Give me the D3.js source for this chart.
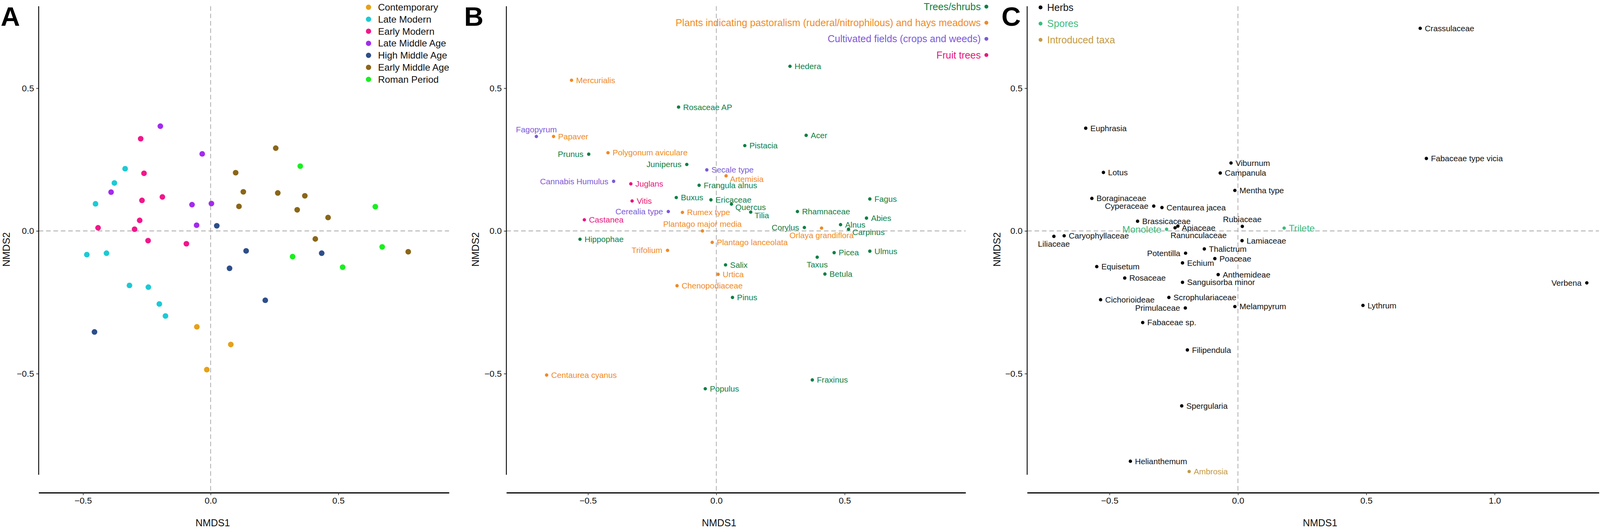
<!DOCTYPE html>
<html>
<head>
<meta charset="utf-8">
<script src="https://cdn.jsdelivr.net/npm/d3@7"></script>
<style>
  html, body { margin: 0; padding: 0; overflow: hidden; background: #fff; }
  svg { display: block; font-family: "Liberation Sans", Arial, sans-serif; }
</style>
</head>
<body>
<svg id="chart"></svg>
<script>
// ---- panel A : samples by period ----
var periodNames = ["Contemporary", "Late Modern", "Early Modern", "Late Middle Age",
                   "High Middle Age", "Early Middle Age", "Roman Period"];
var periodColors = ["#E6A118", "#1CCAD4", "#F2168A", "#A22BEE", "#2D4E8A", "#8A6618", "#18F01E"];

var sampleNMDS1 = [-0.197, -0.033, -0.390, -0.073, 0.003, -0.055,
                   -0.274, -0.261, -0.269, -0.189, -0.278, -0.441, -0.298, -0.245, -0.095,
                   -0.335, -0.377, -0.451, -0.485, -0.408, -0.318, -0.244, -0.201, -0.177,
                   0.024, 0.139, 0.435, 0.074, 0.214, -0.455,
                   0.255, 0.098, 0.128, 0.263, 0.369, 0.111, 0.339, 0.460, 0.410, 0.774,
                   0.351, 0.645, 0.672, 0.321, 0.517,
                   -0.054, 0.079, -0.015];
var sampleNMDS2 = [0.367, 0.270, 0.136, 0.092, 0.096, 0.020,
                   0.323, 0.202, 0.107, 0.119, 0.037, 0.011, 0.006, -0.034, -0.045,
                   0.218, 0.168, 0.095, -0.083, -0.078, -0.191, -0.197, -0.256, -0.298,
                   0.018, -0.070, -0.078, -0.131, -0.243, -0.354,
                   0.290, 0.204, 0.137, 0.133, 0.123, 0.086, 0.074, 0.047, -0.028, -0.073,
                   0.227, 0.085, -0.056, -0.090, -0.127,
                   -0.336, -0.398, -0.486];
var samplePeriod = [3, 3, 3, 3, 3, 3,
                    2, 2, 2, 2, 2, 2, 2, 2, 2,
                    1, 1, 1, 1, 1, 1, 1, 1, 1,
                    4, 4, 4, 4, 4, 4,
                    5, 5, 5, 5, 5, 5, 5, 5, 5, 5,
                    6, 6, 6, 6, 6,
                    0, 0, 0];

// ---- panel B : tree and anthropogenic taxa ----
var groupNamesB = ["Trees/shrubs", "Plants indicating pastoralism (ruderal/nitrophilous) and hays meadows",
                   "Cultivated fields (crops and weeds)", "Fruit trees"];
var groupColorsB = ["#0E8045", "#F08A24", "#7B5AD8", "#E8167E"];

var taxaB = ["Hedera", "Mercurialis", "Rosaceae AP", "Fagopyrum", "Papaver", "Acer", "Pistacia",
             "Prunus", "Polygonum aviculare", "Juniperus", "Secale type", "Artemisia",
             "Cannabis Humulus", "Juglans", "Frangula alnus", "Buxus", "Ericaceae", "Quercus",
             "Vitis", "Fagus", "Tilia", "Cerealia type", "Rumex type", "Rhamnaceae", "Abies",
             "Castanea", "Alnus", "Corylus", "Orlaya grandiflora", "Carpinus",
             "Plantago major media", "Hippophae", "Plantago lanceolata", "Trifolium", "Ulmus",
             "Picea", "Taxus", "Salix", "Betula", "Urtica", "Chenopodiaceae", "Pinus",
             "Centaurea cyanus", "Fraxinus", "Populus"];
var nmds1B = [0.287, -0.564, -0.147, -0.701, -0.634, 0.350, 0.111,
              -0.497, -0.422, -0.115, -0.037, 0.038,
              -0.400, -0.333, -0.067, -0.156, -0.021, 0.059,
              -0.328, 0.598, 0.134, -0.187, -0.132, 0.316, 0.585,
              -0.514, 0.484, 0.343, 0.410, 0.515,
              -0.054, -0.531, -0.016, -0.190, 0.598,
              0.459, 0.393, 0.036, 0.423, 0.007, -0.153, 0.063,
              -0.661, 0.374, -0.043];
var nmds2B = [0.577, 0.528, 0.434, 0.331, 0.331, 0.335, 0.299,
              0.269, 0.274, 0.233, 0.214, 0.193,
              0.174, 0.165, 0.160, 0.117, 0.109, 0.094,
              0.105, 0.112, 0.066, 0.068, 0.065, 0.068, 0.045,
              0.039, 0.022, 0.012, 0.010, 0.006,
              0.000, -0.029, -0.040, -0.068, -0.071,
              -0.076, -0.092, -0.119, -0.151, -0.152, -0.192, -0.233,
              -0.505, -0.522, -0.553];
var groupB = [0, 1, 0, 2, 1, 0, 0,
              0, 1, 0, 2, 1,
              2, 3, 0, 0, 0, 0,
              3, 0, 0, 2, 1, 0, 0,
              3, 0, 0, 1, 0,
              1, 0, 1, 1, 0,
              0, 0, 0, 0, 1, 1, 0,
              1, 0, 0];
// where each label sits relative to its point
var labelSideB = ["r", "r", "r", "t", "r", "r", "r",
                  "l", "r", "l", "r", "rd",
                  "l", "r", "r", "r", "r", "rd",
                  "r", "r", "rd", "l", "r", "r", "r",
                  "r", "r", "l", "b", "rd",
                  "t", "r", "r", "l", "r",
                  "r", "b", "r", "r", "r", "r", "r",
                  "r", "r", "r"];

// ---- panel C : herbs and spores ----
var groupNamesC = ["Herbs", "Spores", "Introduced taxa"];
var groupColorsC = ["#000000", "#3DBB80", "#C39A45"];

var taxaC = ["Crassulaceae", "Euphrasia", "Fabaceae type vicia", "Viburnum", "Lotus", "Campanula",
             "Mentha type", "Boraginaceae", "Cyperaceae", "Centaurea jacea", "Brassicaceae",
             "Rubiaceae", "Apiaceae", "Ranunculaceae", "Monolete", "Trilete", "Caryophyllaceae",
             "Liliaceae", "Lamiaceae", "Thalictrum", "Potentilla", "Poaceae", "Echium",
             "Equisetum", "Anthemideae", "Rosaceae", "Sanguisorba minor", "Scrophulariaceae",
             "Cichorioideae", "Melampyrum", "Lythrum", "Primulaceae", "Verbena", "Fabaceae sp.",
             "Filipendula", "Spergularia", "Helianthemum", "Ambrosia"];
var nmds1C = [0.710, -0.593, 0.734, -0.027, -0.524, -0.069,
              -0.012, -0.569, -0.328, -0.296, -0.391,
              0.017, -0.234, -0.245, -0.278, 0.180, -0.677,
              -0.717, 0.016, -0.131, -0.204, -0.090, -0.216,
              -0.550, -0.077, -0.441, -0.216, -0.269,
              -0.535, -0.012, 0.487, -0.205, 1.359, -0.371,
              -0.197, -0.219, -0.419, -0.190];
var nmds2C = [0.710, 0.360, 0.254, 0.238, 0.205, 0.203,
              0.142, 0.114, 0.087, 0.082, 0.034,
              0.016, 0.017, 0.011, 0.006, 0.010, -0.017,
              -0.019, -0.034, -0.063, -0.078, -0.097, -0.112,
              -0.125, -0.153, -0.165, -0.180, -0.233,
              -0.241, -0.265, -0.261, -0.270, -0.182, -0.321,
              -0.417, -0.613, -0.807, -0.843];
var groupC = [0, 0, 0, 0, 0, 0,
              0, 0, 0, 0, 0,
              0, 0, 0, 1, 1, 0,
              0, 0, 0, 0, 0, 0,
              0, 0, 0, 0, 0,
              0, 0, 0, 0, 0, 0,
              0, 0, 0, 2];
var labelSideC = ["r", "r", "r", "r", "r", "r",
                  "r", "r", "l", "r", "r",
                  "t", "ru", "br", "l", "r", "r",
                  "b", "r", "r", "l", "r", "r",
                  "r", "r", "r", "r", "r",
                  "r", "r", "r", "l", "l", "r",
                  "r", "r", "r", "r"];

var ticks = [-0.5, 0, 0.5];
var ticksC = [-0.5, 0, 0.5, 1.0];

// layout is designed on a 4550 x 1355 sheet and fitted to the window
var W = window.innerWidth || 4550, H = window.innerHeight || 1355;
var sx = W / 4550, sy = H / 1355, sf = Math.min(sx, sy);
function X(v) { return v * sx; }
function Y(v) { return v * sy; }
function S(v) { return v * sf; }

// label offsets per side code
var sides = {
  r:  {anchor: "start",  dx: 13,  dy: 0},
  rd: {anchor: "start",  dx: 11,  dy: 9},
  ru: {anchor: "start",  dx: 11,  dy: 5},
  l:  {anchor: "end",    dx: -15, dy: 0},
  t:  {anchor: "middle", dx: 0,   dy: -20},
  b:  {anchor: "middle", dx: 0,   dy: 21},
  br: {anchor: "start",  dx: -13, dy: 21}
};

var svg = d3.select("#chart").attr("width", W).attr("height", H);
svg.append("rect").attr("width", W).attr("height", H).attr("fill", "#fff");

var top_ = 16, bottom_ = 1262, yAxisEnd = 1216;

function makePanel(opt) {
  var x = d3.scaleLinear().domain(opt.xDomain).range([X(opt.left), X(opt.right)]);
  var y = d3.scaleLinear().domain([-0.9172, 0.7873]).range([Y(bottom_), Y(top_)]);
  var g = svg.append("g");
  var dash = S(13) + "," + S(8);

  // zero reference lines
  g.append("line")
    .attr("x1", X(opt.left)).attr("x2", X(opt.right))
    .attr("y1", y(0)).attr("y2", y(0))
    .attr("stroke", "#a6a6a6").attr("stroke-width", S(2)).attr("stroke-dasharray", dash);
  g.append("line")
    .attr("x1", x(0)).attr("x2", x(0))
    .attr("y1", Y(top_)).attr("y2", Y(bottom_))
    .attr("stroke", "#a6a6a6").attr("stroke-width", S(2)).attr("stroke-dasharray", dash);

  // y axis
  var ya = g.append("g")
    .attr("transform", "translate(" + X(opt.left) + ",0)")
    .call(d3.axisLeft(y).tickValues(ticks).tickSize(S(7)).tickPadding(S(6))
      .tickFormat(d3.format(".1f")));
  ya.select(".domain").remove();
  ya.append("line")
    .attr("y1", Y(top_)).attr("y2", Y(yAxisEnd))
    .attr("stroke", "#000").attr("stroke-width", S(2.5));
  ya.selectAll(".tick line").attr("stroke", "#333").attr("stroke-width", S(2));
  ya.selectAll(".tick text").attr("font-size", S(25)).attr("fill", "#111");

  // x axis
  var xa = g.append("g")
    .attr("transform", "translate(0," + Y(bottom_) + ")")
    .call(d3.axisBottom(x).tickValues(opt.ticks).tickSize(S(7)).tickPadding(S(6))
      .tickSizeOuter(0).tickFormat(d3.format(".1f")));
  xa.select(".domain").attr("stroke", "#000").attr("stroke-width", S(3.5));
  xa.selectAll(".tick line").attr("stroke", "#333").attr("stroke-width", S(2));
  xa.selectAll(".tick text").attr("font-size", S(25)).attr("fill", "#111");

  // titles
  g.append("text")
    .attr("x", X(opt.xTitle)).attr("y", Y(1348))
    .attr("text-anchor", "middle").attr("font-size", S(28)).attr("fill", "#111")
    .text("NMDS1");
  g.append("text")
    .attr("transform", "translate(" + X(opt.yTitle) + "," + Y((top_ + bottom_) / 2) + ") rotate(-90)")
    .attr("text-anchor", "middle").attr("font-size", S(28)).attr("fill", "#111")
    .text("NMDS2");
  g.append("text")
    .attr("x", X(opt.letterX)).attr("y", Y(66))
    .attr("font-size", S(76)).attr("font-weight", "bold").attr("fill", "#000")
    .text(opt.letter);

  return {g: g, x: x, y: y};
}

// ---------- A ----------
var pA = makePanel({left: 110, right: 1277, xDomain: [-0.6736, 0.9339], ticks: ticks,
                    xTitle: 605, yTitle: 28, letter: "A", letterX: 2});
pA.g.selectAll("circle.sample")
  .data(d3.range(sampleNMDS1.length))
  .join("circle")
  .attr("class", "sample")
  .attr("cx", function(i) { return pA.x(sampleNMDS1[i]); })
  .attr("cy", function(i) { return pA.y(sampleNMDS2[i]); })
  .attr("r", S(8))
  .attr("fill", function(i) { return periodColors[samplePeriod[i]]; });

var legA = pA.g.selectAll("g.legA").data(periodNames).join("g")
  .attr("class", "legA")
  .attr("transform", function(d, i) { return "translate(" + X(1048) + "," + Y(18.5 + i * 30.8) + ")"; });
legA.append("circle").attr("r", S(7.5)).attr("fill", function(d, i) { return periodColors[i]; });
legA.append("text").attr("x", S(27)).attr("dy", "0.35em").attr("font-size", S(27)).attr("fill", "#111")
  .text(function(d) { return d; });

// labelled taxa (B and C)
function drawTaxa(p, names, xs, ys, grp, side, colors, labelColor, fontFor) {
  var idx = d3.range(names.length);
  p.g.selectAll("circle.taxon").data(idx).join("circle")
    .attr("class", "taxon")
    .attr("cx", function(i) { return p.x(xs[i]); })
    .attr("cy", function(i) { return p.y(ys[i]); })
    .attr("r", S(4.8))
    .attr("fill", function(i) { return colors[grp[i]]; });
  p.g.selectAll("text.taxon").data(idx).join("text")
    .attr("class", "taxon")
    .attr("x", function(i) { return p.x(xs[i]) + S(sides[side[i]].dx); })
    .attr("y", function(i) { return p.y(ys[i]) + S(sides[side[i]].dy); })
    .attr("dy", "0.35em")
    .attr("text-anchor", function(i) { return sides[side[i]].anchor; })
    .attr("font-size", function(i) { return S(fontFor(grp[i])); })
    .attr("fill", function(i) { return labelColor(grp[i]); })
    .text(function(i) { return names[i]; });
}

// ---------- B ----------
var pB = makePanel({left: 1440, right: 2746, xDomain: [-0.8178, 0.9712], ticks: ticks,
                    xTitle: 2045, yTitle: 1362, letter: "B", letterX: 1320});
drawTaxa(pB, taxaB, nmds1B, nmds2B, groupB, labelSideB, groupColorsB,
         function(gi) { return groupColorsB[gi]; }, function() { return 23; });

var legB = pB.g.selectAll("g.legB").data(groupNamesB).join("g")
  .attr("class", "legB")
  .attr("transform", function(d, i) { return "translate(" + X(2805) + "," + Y(17 + i * 41.3) + ")"; });
legB.append("circle").attr("r", S(5.5)).attr("fill", function(d, i) { return groupColorsB[i]; });
legB.append("text").attr("x", S(-16)).attr("dy", "0.35em").attr("text-anchor", "end")
  .attr("font-size", S(28)).attr("fill", function(d, i) { return groupColorsB[i]; })
  .text(function(d) { return d; });

// ---------- C ----------
var pC = makePanel({left: 2921, right: 4547, xDomain: [-0.8211, 1.4063], ticks: ticksC,
                    xTitle: 3754, yTitle: 2845, letter: "C", letterX: 2848});
drawTaxa(pC, taxaC, nmds1C, nmds2C, groupC, labelSideC, groupColorsC,
         function(gi) { return gi === 0 ? "#111" : groupColorsC[gi]; },
         function(gi) { return gi === 1 ? 27 : 23; });

var legC = pC.g.selectAll("g.legC").data(groupNamesC).join("g")
  .attr("class", "legC")
  .attr("transform", function(d, i) { return "translate(" + X(2959) + "," + Y(19 + i * 41.5) + ")"; });
legC.append("circle").attr("r", S(5.5)).attr("fill", function(d, i) { return groupColorsC[i]; });
legC.append("text").attr("x", S(19)).attr("dy", "0.35em")
  .attr("font-size", S(28)).attr("fill", function(d, i) { return i === 0 ? "#111" : groupColorsC[i]; })
  .text(function(d) { return d; });
</script>
</body>
</html>
